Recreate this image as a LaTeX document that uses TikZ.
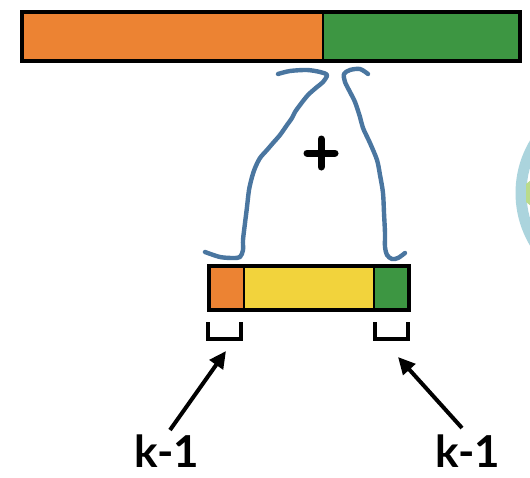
\documentclass[tikz,border=0pt]{standalone}
\usepackage{fontspec}
\setmainfont{Lato}
\usetikzlibrary{arrows.meta}
\definecolor{seqorange}{HTML}{EC8333}
\definecolor{seqgreen}{HTML}{3D9642}
\definecolor{seqyellow}{HTML}{F2D33C}
\definecolor{penblue}{HTML}{4A76A0}
\definecolor{logoblue}{HTML}{ABD4DD}
\definecolor{logogreen}{HTML}{9CCB5A}
\tikzset{
  seqframe/.style={draw=black, line width=3.8pt, line join=miter},
  divider/.style={draw=black, line width=2.8pt},
  pen/.style={draw=penblue, line width=4.4pt, line cap=round, line join=round},
  overlap/.style={draw=black, line width=3.6pt, line join=miter},
  pointer/.style={draw=black, line width=4pt, -{Triangle[length=17pt,width=16pt]}},
  klabel/.style={font=\fontsize{44}{44}\selectfont\bfseries, inner sep=0pt, anchor=base}
}
\begin{document}
\begin{tikzpicture}[x=1pt, y=-1pt]
\useasboundingbox (0,0) rectangle (530,477);
\fill[white] (0,0) rectangle (530,477);

% partial logo ring at the right edge
\begin{scope}
  \clip (0,0) rectangle (530,477);
  \draw[logoblue, line width=11pt] (618,193) circle (97);
  \fill[logogreen!70] (526,184) -- (531,180) -- (531,206) -- (526,202) -- cycle;
\end{scope}

% long read: orange + green
\fill[seqorange] (22,12) rectangle (323,61);
\fill[seqgreen] (323,12) rectangle (520,61);
\draw[divider] (323,12) -- (323,61);
\draw[seqframe] (22,12) rectangle (520,61);

% short sequence: orange overlap, yellow middle, green overlap
\fill[seqorange] (209,266) rectangle (244,310);
\fill[seqyellow] (244,266) rectangle (374,310);
\fill[seqgreen] (374,266) rectangle (409,310);
\draw[divider] (244,266) -- (244,310);
\draw[divider] (374,266) -- (374,310);
\draw[seqframe] (209,266) rectangle (409,310);

% hand-drawn brackets joining the two
\draw[pen] plot[smooth, tension=0.5] coordinates {
  (205,252) (220,257) (233,258) (240,257) (243,250) (243,240) (245,223)
  (247,207) (249,190) (252,177) (255,168) (260,158) (267,150) (273,143)
  (280,135) (287,125) (292,118) (295,112) (300,105) (308,95) (317,87)
  (323,82) (327,75) (320,72) (307,70) (290,71) (278,74)};
\draw[pen] plot[smooth, tension=0.5] coordinates {
  (368,74) (360,69) (350,70) (344,74) (345,82) (350,92) (355,102)
  (360,117) (363,128) (370,143) (377,160) (380,175) (383,193) (384,213)
  (385,233) (385,247) (387,255) (392,259) (398,258) (405,253)};

% plus sign
\node (plus) at (321,153) {};
\draw[black, line width=7pt, line cap=round] ([xshift=-14pt]plus.center) -- ([xshift=14pt]plus.center);
\draw[black, line width=7pt, line cap=round] ([yshift=-14pt]plus.center) -- ([yshift=14pt]plus.center);

% overlap markers under the short sequence
\draw[overlap] (208,322) -- (208,339) -- (241,339) -- (241,322);
\draw[overlap] (375,322) -- (375,339) -- (408,339) -- (408,322);
\coordinate (markL) at (226,351);
\coordinate (markR) at (398,357);

% labels and pointers
\node[klabel] (kL) at (167,467) {k-1};
\node[klabel] (kR) at (468,467) {k-1};
\coordinate (kLtail) at (170,430);
\coordinate (kRtail) at (462,428);
\draw[pointer] (kLtail) -- (markL);
\draw[pointer] (kRtail) -- (markR);
\end{tikzpicture}
\end{document}
